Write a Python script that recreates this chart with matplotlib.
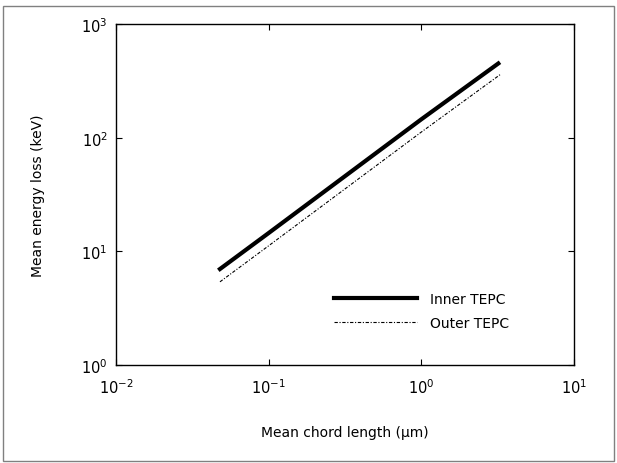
import matplotlib.pyplot as plt
from matplotlib.patches import Rectangle

# values (log-log straight lines)
chord_inner = [0.048, 0.1, 1.0, 3.2]
eloss_inner = [7.0, 14.5, 145, 450]
chord_outer = [0.048, 0.1, 1.0, 3.3]
eloss_outer = [5.4, 11.2, 112, 360]

plt.rcParams['font.family'] = ['DejaVu Sans']

fig = plt.figure(figsize=(6.17, 4.64), dpi=100)
ax = fig.add_axes([0.188, 0.211, 0.742, 0.735])

# thin frame around the whole figure
fig.patches.append(Rectangle((3 / 617, 2 / 464), 611 / 617, 455 / 464,
                             transform=fig.transFigure, fill=False,
                             edgecolor='#808080', linewidth=1.0))

ax.loglog(chord_inner, eloss_inner, color='black', linewidth=3.0, label='Inner TEPC')
ax.loglog(chord_outer, eloss_outer, color='black', linewidth=0.8,
          linestyle=(0, (3, 1.5, 1, 1.5)), label='Outer TEPC')

ax.set_xlim(1e-2, 1e1)
ax.set_ylim(1e0, 1e3)
ax.minorticks_off()
ax.tick_params(which='both', direction='in', top=True, right=True,
               length=4, width=0.8, labelsize=10.5)
ax.tick_params(axis='x', pad=9)
ax.tick_params(axis='y', pad=6)
for s in ax.spines.values():
    s.set_linewidth(1.0)

ax.set_xlabel('Mean chord length (\u03bcm)', fontsize=10, labelpad=21)
ax.set_ylabel('Mean energy loss (keV)', fontsize=10, labelpad=26)

ax.legend(loc='lower right', bbox_to_anchor=(0.886, 0.066), frameon=False,
          fontsize=10, handlelength=6.0, handletextpad=0.9, labelspacing=0.75)

fig.savefig('out.png', dpi=100)
